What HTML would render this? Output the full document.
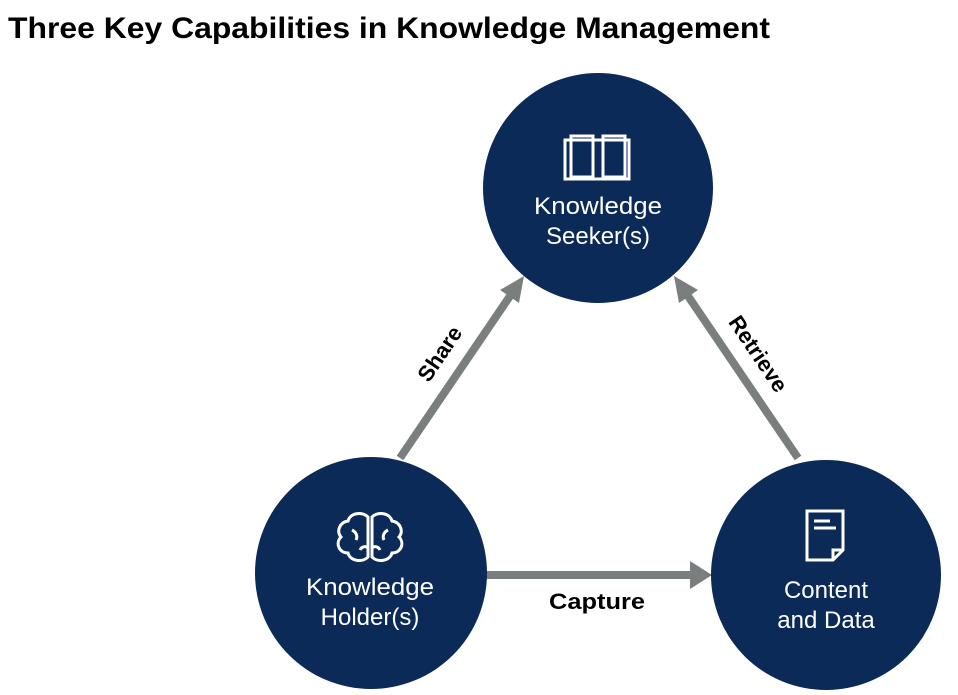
<!DOCTYPE html>
<html><head><style>
body{margin:0;background:#fff;width:958px;height:690px;overflow:hidden}
</style></head><body>
<svg width="958" height="690" viewBox="0 0 958 690" xmlns="http://www.w3.org/2000/svg">
<text x="8" y="38" font-family="Liberation Sans, sans-serif" font-weight="bold" font-size="30" fill="#000" textLength="762" lengthAdjust="spacingAndGlyphs">Three Key Capabilities in Knowledge Management</text>
<g stroke="#7b7e7e" stroke-width="8" fill="none">
<line x1="400" y1="458" x2="510" y2="296"/>
<line x1="798" y1="458" x2="688" y2="296"/>
<line x1="486" y1="575" x2="692" y2="575"/>
</g>
<g fill="#7b7e7e">
<polygon points="524,276 500,290 519,303"/>
<polygon points="674,276 679,303 698,290"/>
<polygon points="712,575 690,561 690,589"/>
</g>
<g fill="#0b2a57">
<circle cx="598" cy="188" r="115"/>
<circle cx="371" cy="573" r="116"/>
<circle cx="826" cy="575" r="115"/>
</g>
<g stroke="#fff" stroke-width="3" fill="none">
<rect x="565" y="140" width="64" height="39"/>
<path d="M571 136 h22 v41 h-22 z M603 136 h22 v41 h-22 z"/>
<path d="M807 511 h36 v39 l-10 10 h-26 z M833 560 v-10 h10"/>
<line x1="814" y1="521" x2="830" y2="521"/><line x1="814" y1="528" x2="836" y2="528"/>
<path d="M368 517 c-6-6-18-4-20 4 c-8 1-12 10-7 16 c-6 6-2 16 7 16 c2 8 14 10 20 4 z M372 517 c6-6 18-4 20 4 c8 1 12 10 7 16 c6 6 2 16-7 16 c-2 8-14 10-20 4 z"/>
<path d="M352 530 c4 2 6 6 4 10 M388 530 c-4 2-6 6-4 10 M360 550 c2-4 6-4 8-2 M380 550 c-2-4-6-4-8-2"/>
</g>
<g font-family="Liberation Sans, sans-serif" font-size="24" fill="#fff" text-anchor="middle">
<text x="598" y="214" textLength="128" lengthAdjust="spacingAndGlyphs">Knowledge</text><text x="598" y="244">Seeker(s)</text>
<text x="370" y="595" textLength="128" lengthAdjust="spacingAndGlyphs">Knowledge</text><text x="370" y="625">Holder(s)</text>
<text x="826" y="598">Content</text><text x="826" y="628">and Data</text>
</g>
<g font-family="Liberation Sans, sans-serif" font-weight="bold" font-size="22" fill="#000" text-anchor="middle">
<text x="597" y="609" textLength="96" lengthAdjust="spacingAndGlyphs">Capture</text>
<text transform="translate(446,358) rotate(-56)">Share</text>
<text transform="translate(752,358) rotate(56)">Retrieve</text>
</g>
</svg>
</body></html>
